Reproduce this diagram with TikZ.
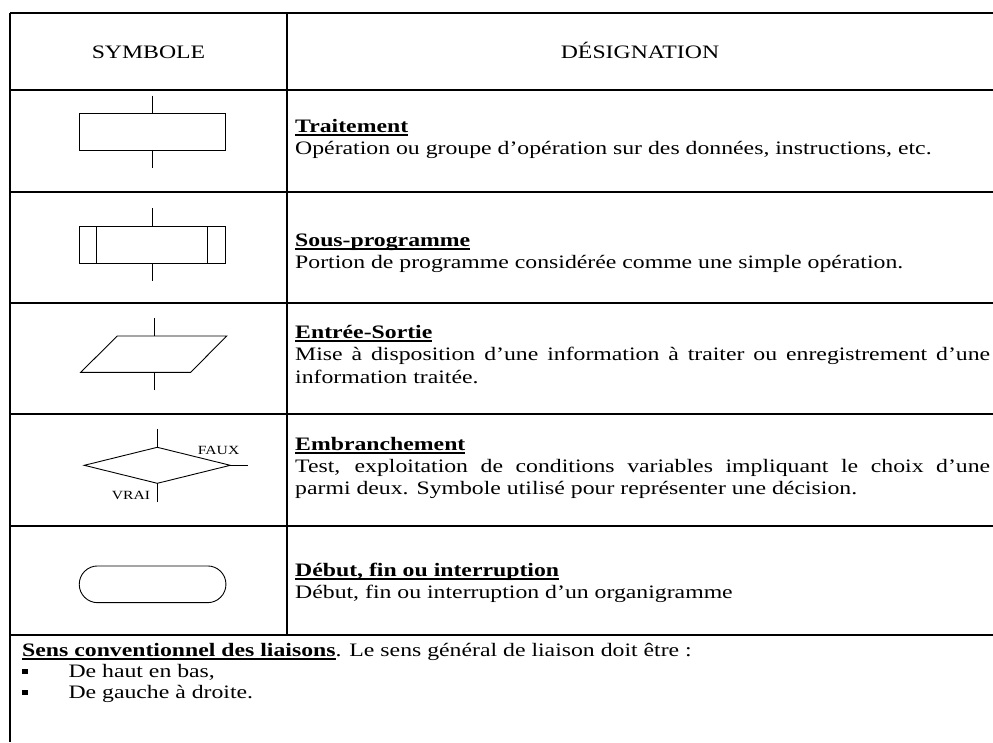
\documentclass[tikz,border=0pt]{standalone}
\usepackage{fontspec}
\setmainfont{Liberation Serif}[FakeStretch=1.25]
\newcommand\myul[1]{\setbox0\hbox{#1}\rlap{\rule[-3.6pt]{\wd0}{1.4pt}}\box0}
\tikzset{
  tbl/.style={line width=2pt},
  sym/.style={line width=0.9pt},
  txt/.style={inner sep=0pt, anchor=base west, font=\fontsize{19}{23}\selectfont},
  hdr/.style={inner sep=0pt, anchor=base, font=\fontsize{19}{23}\selectfont},
  lab/.style={inner sep=0pt, font=\fontsize{12.5}{14}\selectfont},
  boxsym/.style={sym, draw, rectangle, minimum width=146pt, minimum height=36.7pt, inner sep=0pt},
  bulletsq/.style={fill=black, inner sep=0pt, minimum size=5.5pt},
}
\begin{document}
\begin{tikzpicture}[x=1pt,y=-1pt]
\useasboundingbox (0,0) rectangle (993,742);
% table frame
\draw[tbl] (10,13) -- (993,13);
\draw[tbl] (10,13) -- (10,742);
\draw[tbl] (287,13) -- (287,635);
\foreach \yy in {90,191.7,303,414,525.7,635} \draw[tbl] (10,\yy) -- (993,\yy);
% header
\node[hdr] (hs) at (148.5,58) {SYMBOLE};
\node[hdr] (hd) at (640,58) {DÉSIGNATION};
% Traitement symbol
\node[boxsym] (proc) at (152.3,131.65) {};
\coordinate (procT) at (152.3,95.7);
\coordinate (procB) at (152.3,168.3);
\draw[sym] (procT) -- (proc.north);
\draw[sym] (proc.south) -- (procB);
% Sous-programme symbol
\node[boxsym] (sub) at (152.3,245) {};
\draw[sym] ([xshift=18pt]sub.north west) -- ([xshift=18pt]sub.south west);
\draw[sym] ([xshift=-18pt]sub.north east) -- ([xshift=-18pt]sub.south east);
\coordinate (subT) at (152.3,208.3);
\coordinate (subB) at (152.3,281);
\draw[sym] (subT) -- (sub.north);
\draw[sym] (sub.south) -- (subB);
% Entree-Sortie symbol
\draw[sym] (117.3,336) -- (226.7,336) -- (190.7,372.3) -- (80.7,372.3) -- cycle;
\coordinate (ioN) at (154,336);
\coordinate (ioS) at (154,372.3);
\coordinate (ioT) at (154,318);
\coordinate (ioB) at (154,390);
\draw[sym] (ioT) -- (ioN);
\draw[sym] (ioS) -- (ioB);
% Embranchement symbol
\draw[sym] (157.3,447.3) -- (230.3,465.3) -- (157.3,483.3) -- (84.3,465.3) -- cycle;
\coordinate (decN) at (157.3,447.3);
\coordinate (decS) at (157.3,483.3);
\coordinate (decE) at (230.3,465.3);
\coordinate (decT) at (157.3,429.3);
\coordinate (decB) at (157.3,501.7);
\coordinate (decR) at (248.3,465.3);
\draw[sym] (decT) -- (decN);
\draw[sym] (decS) -- (decB);
\draw[sym] (decE) -- (decR);
\node[lab] (faux) at (218.6,450) {FAUX};
\node[lab] (vrai) at (131,495) {VRAI};
% Debut symbol
\node[sym, draw, rectangle, rounded corners=18.3pt, minimum width=146.7pt, minimum height=36.7pt, inner sep=0pt] (term) at (152.6,584.3) {};
% descriptions
\node[txt] (t1) at (295,132) {\myul{\textbf{Traitement}}};
\node[txt] (d1) at (295,154) {Opération ou groupe d’opération sur des données, instructions, etc.};
\node[txt] (t2) at (295,246) {\myul{\textbf{Sous-programme}}};
\node[txt] (d2) at (295,268) {Portion de programme considérée comme une simple opération.};
\node[txt] (t3) at (295,338) {\myul{\textbf{Entrée-Sortie}}};
\node[txt] (d3a) at (295,360) {\makebox[695pt][s]{Mise à disposition d’une information à traiter ou enregistrement d’une}};
\node[txt] (d3b) at (295,383) {information traitée.};
\node[txt] (t4) at (295,450) {\myul{\textbf{Embranchement}}};
\node[txt] (d4a) at (295,472) {\makebox[695pt][s]{Test, exploitation de conditions variables impliquant le choix d’une}};
\node[txt] (d4b) at (295,494) {parmi deux. Symbole utilisé pour représenter une décision.};
\node[txt] (t5) at (295,576) {\myul{\textbf{Début, fin ou interruption}}};
\node[txt] (d5) at (295,598) {Début, fin ou interruption d’un organigramme};
% bottom
\node[txt] (sens) at (22,656) {\myul{\textbf{Sens conventionnel des liaisons}}. Le sens général de liaison doit être :};
\node[bulletsq] (b1) at (25,671.5) {};
\node[txt] (l1) at (68.3,677) {De haut en bas,};
\node[bulletsq] (b2) at (25,692.5) {};
\node[txt] (l2) at (68.3,698) {De gauche à droite.};
\end{tikzpicture}
\end{document}
